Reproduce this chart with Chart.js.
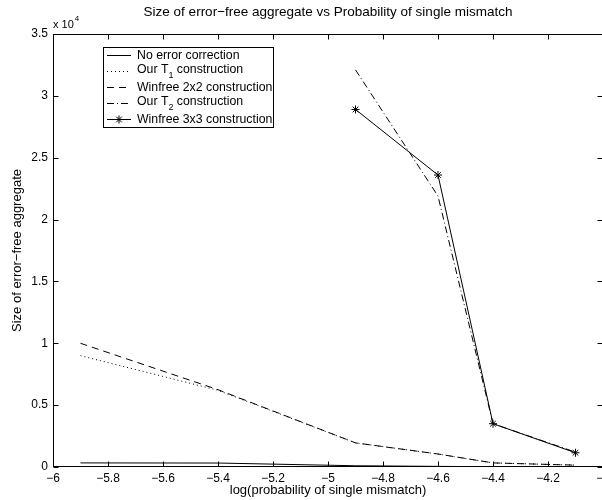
<!DOCTYPE html>
<html>
<head>
<meta charset="utf-8">
<script src="https://cdn.jsdelivr.net/npm/chart.js@4"></script>
<style>
  html, body { margin: 0; padding: 0; background: #fff; overflow: hidden; }
  canvas { display: block; }
</style>
</head>
<body>
<canvas id="chart" width="620" height="500" style="width:620px;height:500px"></canvas>
<script>
// log10 of the mismatch probability
let logP = [-5.9, -5.4, -4.9, -4.6, -4.4, -4.1];

let noCorrection = [330, 320, 100, 50, 20, 10];
let ourT1 = [9000, 6200, 1950, 1050, 330, 150];
let winfree2x2 = [10000, 6250, 1950, 1050, 330, 150];
let ourT2 = [null, null, 32100, 21900, 3500, 1200];
let winfree3x3 = [null, null, 28900, 23600, 3500, 1150];

let seriesNames = [
  "No error correction",
  "Our T|1| construction",
  "Winfree 2x2 construction",
  "Our T|2| construction",
  "Winfree 3x3 construction"
];

const FONT = "'Liberation Sans', Arial, Helvetica, sans-serif";

function pts(vals) {
  return logP.map((x, i) => ({ x: x, y: vals[i] }));
}

function minusSign(s) {
  return s.replace('-', '\u2212');
}

// MATLAB-ish frame: full box, inward ticks, title, exponent and boxed legend
const matlabFrame = {
  id: 'matlabFrame',
  afterDraw(chart) {
    let ctx = chart.ctx;
    let a = chart.chartArea;
    let xs = chart.scales.x, ys = chart.scales.y;
    let L = Math.round(a.left) + 0.5, R = Math.round(a.right) - 0.5;
    let T = Math.round(a.top) + 0.5, B = Math.round(a.bottom) - 0.5;

    ctx.save();
    ctx.strokeStyle = '#000';
    ctx.lineWidth = 1;
    ctx.setLineDash([]);
    ctx.strokeRect(L, T, R - L, B - T);

    ctx.beginPath();
    xs.ticks.forEach(t => {
      let px = Math.round(xs.getPixelForValue(t.value)) + 0.5;
      ctx.moveTo(px, B); ctx.lineTo(px, B - 5);
      ctx.moveTo(px, T); ctx.lineTo(px, T + 5);
    });
    ys.ticks.forEach(t => {
      let py = Math.round(ys.getPixelForValue(t.value)) + 0.5;
      ctx.moveTo(L, py); ctx.lineTo(L + 5, py);
      ctx.moveTo(R, py); ctx.lineTo(R - 5, py);
    });
    ctx.stroke();

    // title
    ctx.fillStyle = '#000';
    ctx.font = '13.5px ' + FONT;
    ctx.textAlign = 'center';
    ctx.textBaseline = 'middle';
    ctx.fillText('Size of error\u2212free aggregate vs Probability of single mismatch', (a.left + a.right) / 2, 12);

    // exponent
    ctx.textAlign = 'left';
    ctx.font = '11px ' + FONT;
    ctx.fillText('x 10', a.left, 25);
    let w = ctx.measureText('x 10').width;
    ctx.font = '8px ' + FONT;
    ctx.fillText('4', a.left + w + 1, 19);

    // legend
    let bx = 103, by = 47, bw = 170, bh = 80, row = 16;
    ctx.fillStyle = '#fff';
    ctx.fillRect(bx, by, bw, bh);
    ctx.strokeStyle = '#000';
    ctx.strokeRect(bx + 0.5, by + 0.5, bw, bh);
    chart.data.datasets.forEach((ds, i) => {
      let y = by + 8 + i * row + 0.5;
      ctx.setLineDash(ds.borderDash || []);
      ctx.beginPath();
      ctx.moveTo(bx + 4, y);
      ctx.lineTo(bx + 28, y);
      ctx.stroke();
      ctx.setLineDash([]);
      if (ds.pointRadius > 0) {
        let r = ds.pointRadius;
        let cx = bx + 16;
        ctx.beginPath();
        ctx.moveTo(cx - r, y); ctx.lineTo(cx + r, y);
        ctx.moveTo(cx, y - r); ctx.lineTo(cx, y + r);
        let d = r * 0.7071;
        ctx.moveTo(cx - d, y - d); ctx.lineTo(cx + d, y + d);
        ctx.moveTo(cx - d, y + d); ctx.lineTo(cx + d, y - d);
        ctx.stroke();
      }
      let parts = ds.label.split('|');
      let tx = bx + 34;
      ctx.fillStyle = '#000';
      ctx.textAlign = 'left';
      ctx.textBaseline = 'middle';
      parts.forEach((p, k) => {
        if (k % 2 === 1) {
          ctx.font = '9px ' + FONT;
          ctx.fillText(p, tx, y + 4);
        } else {
          ctx.font = '12.3px ' + FONT;
          ctx.fillText(p, tx, y - (parts.length > 1 ? 2 : 0));
        }
        tx += ctx.measureText(p).width;
      });
    });
    ctx.restore();
  }
};

const baseLine = { borderColor: '#000', backgroundColor: '#000', borderWidth: 1, pointRadius: 0, tension: 0, fill: false };

new Chart(document.getElementById('chart'), {
  type: 'line',
  data: {
    datasets: [
      { ...baseLine, label: seriesNames[0], data: pts(noCorrection) },
      { ...baseLine, label: seriesNames[1], data: pts(ourT1), borderDash: [1, 3] },
      { ...baseLine, label: seriesNames[2], data: pts(winfree2x2), borderDash: [7, 5] },
      { ...baseLine, label: seriesNames[3], data: pts(ourT2), borderDash: [7, 3, 1, 3] },
      { ...baseLine, label: seriesNames[4], data: pts(winfree3x3), pointStyle: 'star', pointRadius: 4, pointBorderWidth: 1, pointBorderColor: '#000' }
    ]
  },
  options: {
    responsive: false,
    animation: false,
    layout: { padding: { left: 0, right: 17, top: 34, bottom: 0 } },
    plugins: {
      legend: { display: false },
      tooltip: { enabled: false },
      title: { display: false }
    },
    scales: {
      x: {
        type: 'linear',
        min: -6, max: -4,
        grid: { display: false, drawTicks: false },
        border: { display: false },
        afterFit: s => { s.height = 33; },
        ticks: {
          stepSize: 0.2,
          padding: 4,
          color: '#000',
          maxRotation: 0,
          font: { family: FONT, size: 12 },
          callback: v => minusSign(String(Number(v.toFixed(1))))
        },
        title: {
          display: true,
          text: 'log(probability of single mismatch)',
          color: '#000',
          font: { family: FONT, size: 13 },
          padding: { top: 0, bottom: 2 }
        }
      },
      y: {
        min: 0, max: 35000,
        grid: { display: false, drawTicks: false },
        border: { display: false },
        afterFit: s => { s.width = 53; },
        ticks: {
          stepSize: 5000,
          padding: 5,
          color: '#000',
          font: { family: FONT, size: 12 },
          callback: v => String(v / 10000)
        },
        title: {
          display: true,
          text: 'Size of error\u2212free aggregate',
          color: '#000',
          font: { family: FONT, size: 13 },
          padding: { top: 10, bottom: 0 }
        }
      }
    }
  },
  plugins: [matlabFrame]
});
</script>
</body>
</html>
